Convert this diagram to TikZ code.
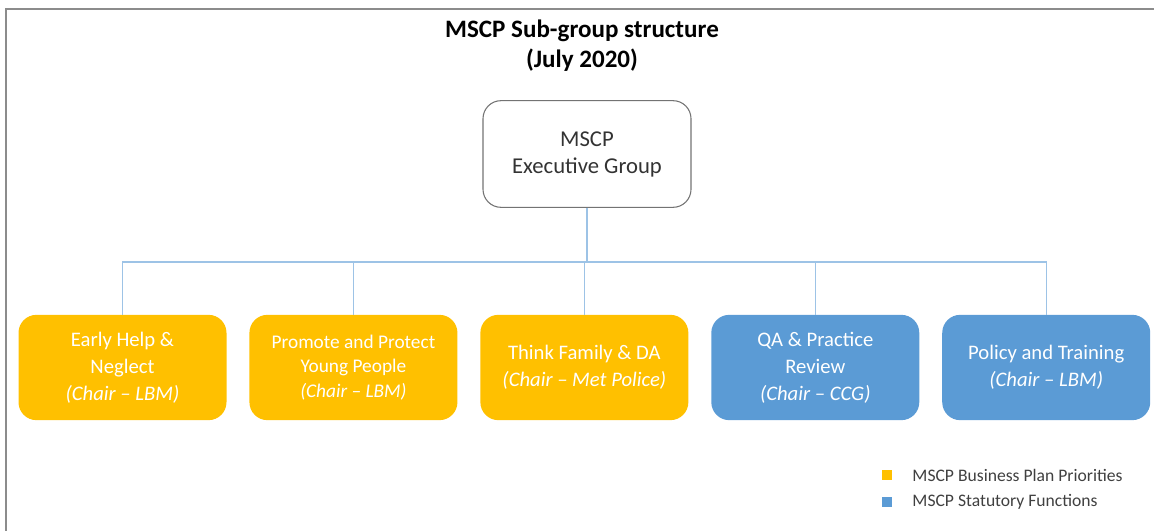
\documentclass[tikz,border=0pt]{standalone}
\usepackage{fontspec}
\setmainfont{Carlito}
\usetikzlibrary{positioning}
\definecolor{prioamber}{HTML}{FFC000}
\definecolor{statblue}{HTML}{5B9BD5}
\definecolor{linkblue}{HTML}{9DC3E6}

\begin{document}
\begin{tikzpicture}[
        x=0.75pt, y=-0.75pt,
        node distance=16.8pt,
        group/.style={
            rounded corners=13.5pt,
            minimum width=156pt,
            minimum height=79pt,
            inner sep=2pt,
            align=center,
            text=white,
            font=\fontsize{15.5}{20.25}\selectfont
        },
        priority/.style={group, fill=prioamber},
        statutory/.style={group, fill=statblue},
        link/.style={
            draw=linkblue,
            line width=1pt
        },
        key/.style={minimum size=7.5pt, inner sep=0pt}
    ]
        \useasboundingbox (0,0) rectangle (1154,531);
        \draw[black!45, line width=1.5pt] (6,531) -- (6,9) -- (1154,9);

        \node[font=\bfseries\fontsize{18.8}{22.5}\selectfont, align=center] (title) at (582,46) {MSCP Sub-group structure\\(July 2020)};

        \node[draw=black!55, line width=0.8pt, rounded corners=13.5pt, minimum width=156pt, minimum height=80pt,
              align=center, text=black!80, font=\fontsize{17}{20.25}\selectfont] (exec) at (587,154) {MSCP\\Executive Group};
        \coordinate (hub) at (exec.south |- 0,262);

        \node[priority] (earlyhelp) at (122.5,367.5) {Early Help \&\\Neglect\\\textit{(Chair -- LBM)}};
        \node[priority, right=of earlyhelp, font=\fontsize{14.5}{18.5}\selectfont] (youngpeople) {Promote and Protect\\Young People\\\textit{(Chair -- LBM)}};
        \node[priority, right=of youngpeople] (thinkfamily) {Think Family \& DA\\\textit{(Chair -- Met Police)}};
        \node[statutory, right=of thinkfamily] (qareview) {QA \& Practice\\Review\\\textit{(Chair -- CCG)}};
        \node[statutory, right=of qareview] (training) {Policy and Training\\\textit{(Chair -- LBM)}};

        \foreach \sub in {earlyhelp,youngpeople,thinkfamily,qareview,training}
            \draw[link] (exec.south) -- (hub) -| (\sub.north);

        % legend
        \node[key, fill=prioamber] (keyprio) at (886.5,475) {};
        \node[key, fill=statblue] (keystat) at (886.5,502) {};
        \node[right=12pt of keyprio, text=black!75, font=\fontsize{13.2}{15}\selectfont] (labelprio) {MSCP Business Plan Priorities};
        \node[right=12pt of keystat, text=black!75, font=\fontsize{13.2}{15}\selectfont] (labelstat) {MSCP Statutory Functions};
    \end{tikzpicture}
\end{document}
